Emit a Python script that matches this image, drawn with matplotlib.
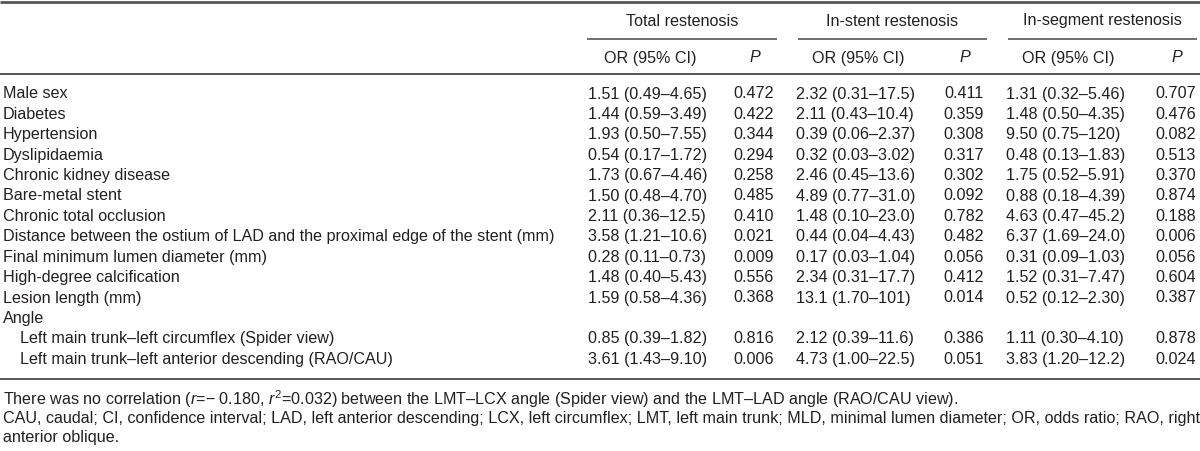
import matplotlib.pyplot as plt

# table contents
labels = ["Male sex", "Diabetes", "Hypertension", "Dyslipidaemia", "Chronic kidney disease",
          "Bare-metal stent", "Chronic total occlusion",
          "Distance between the ostium of LAD and the proximal edge of the stent (mm)",
          "Final minimum lumen diameter (mm)", "High-degree calcification", "Lesion length (mm)",
          "Angle",
          "Left main trunk–left circumflex (Spider view)",
          "Left main trunk–left anterior descending (RAO/CAU)"]
indented = [False] * 12 + [True, True]

total_or = ["1.51 (0.49–4.65)", "1.44 (0.59–3.49)", "1.93 (0.50–7.55)", "0.54 (0.17–1.72)",
            "1.73 (0.67–4.46)", "1.50 (0.48–4.70)", "2.11 (0.36–12.5)", "3.58 (1.21–10.6)",
            "0.28 (0.11–0.73)", "1.48 (0.40–5.43)", "1.59 (0.58–4.36)", "",
            "0.85 (0.39–1.82)", "3.61 (1.43–9.10)"]
total_p = ["0.472", "0.422", "0.344", "0.294", "0.258", "0.485", "0.410", "0.021",
           "0.009", "0.556", "0.368", "", "0.816", "0.006"]
stent_or = ["2.32 (0.31–17.5)", "2.11 (0.43–10.4)", "0.39 (0.06–2.37)", "0.32 (0.03–3.02)",
            "2.46 (0.45–13.6)", "4.89 (0.77–31.0)", "1.48 (0.10–23.0)", "0.44 (0.04–4.43)",
            "0.17 (0.03–1.04)", "2.34 (0.31–17.7)", "13.1 (1.70–101)", "",
            "2.12 (0.39–11.6)", "4.73 (1.00–22.5)"]
stent_p = ["0.411", "0.359", "0.308", "0.317", "0.302", "0.092", "0.782", "0.482",
           "0.056", "0.412", "0.014", "", "0.386", "0.051"]
seg_or = ["1.31 (0.32–5.46)", "1.48 (0.50–4.35)", "9.50 (0.75–120)", "0.48 (0.13–1.83)",
          "1.75 (0.52–5.91)", "0.88 (0.18–4.39)", "4.63 (0.47–45.2)", "6.37 (1.69–24.0)",
          "0.31 (0.09–1.03)", "1.52 (0.31–7.47)", "0.52 (0.12–2.30)", "",
          "1.11 (0.30–4.10)", "3.83 (1.20–12.2)"]
seg_p = ["0.707", "0.476", "0.082", "0.513", "0.370", "0.874", "0.188", "0.006",
         "0.056", "0.604", "0.387", "", "0.878", "0.024"]

groups = ["Total restenosis", "In-stent restenosis", "In-segment restenosis"]
footnote2 = ("CAU, caudal; CI, confidence interval; LAD, left anterior descending; LCX, left circumflex; "
             "LMT, left main trunk; MLD, minimal lumen diameter; OR, odds ratio; RAO, right")
footnote3 = "anterior oblique."

plt.rcParams['font.family'] = ['Liberation Sans', 'DejaVu Sans']
plt.rcParams['mathtext.fontset'] = 'custom'
plt.rcParams['mathtext.rm'] = 'Liberation Sans'
plt.rcParams['mathtext.it'] = 'Liberation Sans:italic'

txt = '#231f20'
line_col = '#555555'
fs = 11.6

fig = plt.figure(figsize=(12, 4.51), dpi=100)
ax = fig.add_axes([0, 0, 1, 1])
ax.set_xlim(0, 1200)
ax.set_ylim(451, 0)
ax.axis('off')

# column layout (pixels); P values are right aligned
or_x = [588, 796, 1006]
p_right = [774, 984, 1196]
grp_span = [(587, 777), (798, 987), (1008, 1197)]

# rules
ax.plot([0, 1200], [1.5, 1.5], color=line_col, lw=2.0, solid_capstyle='butt')
ax.plot([0, 1200], [74, 74], color=line_col, lw=1.4, solid_capstyle='butt')
for a, b in grp_span:
    ax.plot([a, b], [39, 39], color=line_col, lw=1.2, solid_capstyle='butt')

# header
for g, (a, b), ox, pr in zip(groups, grp_span, or_x, p_right):
    ax.text((a + b) / 2, 21, g, ha='center', va='center', fontsize=fs, color=txt)
    ax.text(ox + 62, 58, "OR (95% CI)", ha='center', va='center', fontsize=fs, color=txt)
    ax.text(pr - 19, 58, "P", ha='center', va='center', fontsize=fs, color=txt, style='italic')

# body
row0 = 94
step = 20.4
for i, lab in enumerate(labels):
    y = row0 + i * step
    ax.text(20 if indented[i] else 3, y, lab, ha='left', va='center', fontsize=fs, color=txt)
    for col, x in zip([total_or, stent_or, seg_or], or_x):
        ax.text(x, y, col[i], ha='left', va='center', fontsize=fs, color=txt)
    for col, x in zip([total_p, stent_p, seg_p], p_right):
        ax.text(x, y, col[i], ha='right', va='center', fontsize=fs, color=txt)

bottom = row0 + (len(labels) - 1) * step + 20
ax.plot([0, 1200], [bottom, bottom], color=line_col, lw=1.4, solid_capstyle='butt')

# footnotes
ax.text(3, bottom + 20,
        r"There was no correlation ($r$=− 0.180, $r^2$=0.032) between the LMT–LCX angle "
        r"(Spider view) and the LMT–LAD angle (RAO/CAU view).",
        ha='left', va='center', fontsize=fs, color=txt)
ax.text(3, bottom + 39, footnote2, ha='left', va='center', fontsize=fs, color=txt)
ax.text(3, bottom + 58, footnote3, ha='left', va='center', fontsize=fs, color=txt)

fig.savefig("out.png", dpi=100)
